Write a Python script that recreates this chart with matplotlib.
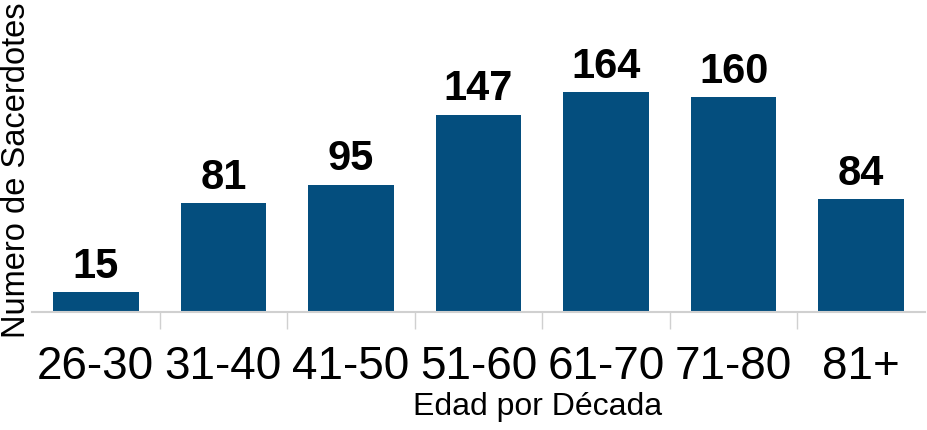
import matplotlib.pyplot as plt

plt.rcParams['font.family'] = ['Liberation Sans', 'DejaVu Sans']

categories = ["26-30", "31-40", "41-50", "51-60", "61-70", "71-80", "81+"]
values = [15, 81, 95, 147, 164, 160, 84]

fig = plt.figure(figsize=(9.27, 4.30), dpi=100)
ax = fig.add_axes([32 / 927, (430 - 312) / 430, (925 - 32) / 927, 312 / 430])

x = range(len(categories))
bars = ax.bar(x, values, width=0.67, color="#044e7e")
for b, v in zip(bars, values):
    ax.text(b.get_x() + b.get_width() / 2, v + 4, str(v), ha="center", va="bottom",
            fontsize=30, fontweight="bold")

ax.set_xlim(-0.5, len(categories) - 0.5)
ax.set_ylim(0, 232.6)
ax.set_xticks(list(x))
ax.set_xticklabels(categories, fontsize=33)
ax.set_xticks([i + 0.5 for i in range(len(categories) - 1)], minor=True)
ax.tick_params(axis="x", which="major", length=0, pad=24)
ax.tick_params(axis="x", which="minor", length=12, color="#d0d0d0", width=1)
ax.set_yticks([])
for s in ["top", "right", "left"]:
    ax.spines[s].set_visible(False)
ax.spines["bottom"].set_color("#d0d0d0")
ax.spines["bottom"].set_linewidth(1.5)

ax.set_xlabel("Edad por Década", fontsize=23)
ax.xaxis.set_label_coords(0.566, -0.255)
ax.set_ylabel("Numero de Sacerdotes", fontsize=23.5)
ax.yaxis.set_label_coords(0.0, 0.455)

fig.savefig("out.png", dpi=100)
